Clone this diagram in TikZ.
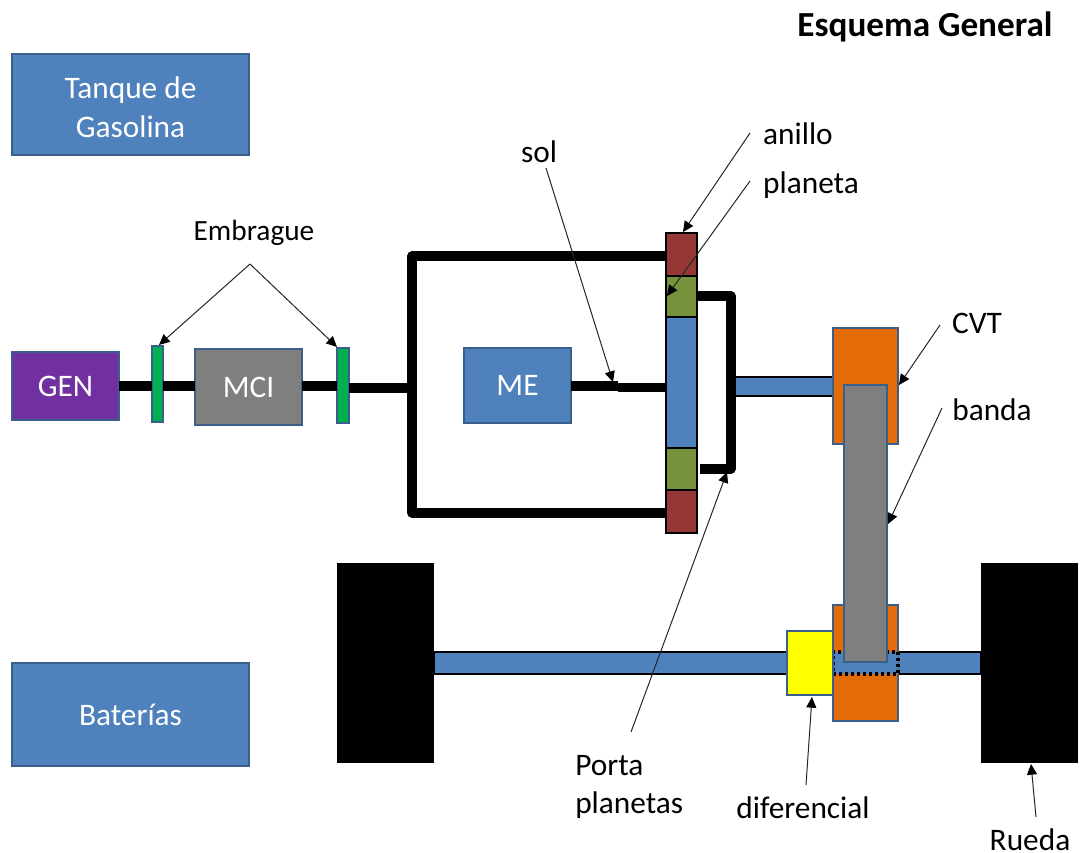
\documentclass[tikz,border=0pt]{standalone}
\usepackage{fontspec}
\setmainfont{Carlito}
\usetikzlibrary{arrows.meta}
\definecolor{cblue}{HTML}{4F81BD}
\definecolor{cborder}{HTML}{3A5F8B}
\definecolor{cpurple}{HTML}{7030A0}
\definecolor{cgreen}{HTML}{00B050}
\definecolor{cgray}{HTML}{7F7F7F}
\definecolor{cred}{HTML}{953735}
\definecolor{colive}{HTML}{76923C}
\definecolor{corange}{HTML}{E36C09}
\definecolor{cyellow}{HTML}{FFFF00}
\tikzset{
  blk/.style={inner sep=0pt,outer sep=0pt,line width=1.6pt,draw=cborder,text=white,font=\fontsize{23.5}{29}\selectfont,align=center},
  gearbox/.style={blk,draw=black,line width=1.8pt},
  lbl/.style={inner sep=0pt,text=black,font=\fontsize{23.5}{28.5}\selectfont},
  heavy/.style={line width=6.8pt,black},
  heavier/.style={line width=6.8pt,black,line join=round},
  pointer/.style={draw=black!85,line width=0.75pt,-{Triangle[length=8pt,width=7.5pt,black]}},
}
\newcommand{\bx}[7]{%
  \pgfmathsetmacro{\bxw}{(#4-#2)*0.75}%
  \pgfmathsetmacro{\bxh}{(#5-#3)*0.75}%
  \node[blk,#6,minimum width=\bxw pt,minimum height=\bxh pt] (#1) at ({(#2+#4)/2},{(#3+#5)/2}) {#7};%
}
\begin{document}
\begin{tikzpicture}[x=0.75pt,y=-0.75pt]
\useasboundingbox (0,0) rectangle (1082,853);
\coordinate (jfl) at (412,388);
\coordinate (jtl) at (412,256);
\coordinate (jbl) at (412,513);
\coordinate (sm1) at (618,386);
\coordinate (sm2) at (618,387.5);
\coordinate (ct) at (731,296);
\coordinate (cb) at (731,469);
\bx{gen}{12}{352}{119}{420}{fill=cpurple}{GEN}
\bx{cl1}{152}{346}{163}{422}{fill=cgreen}{}
\bx{mci}{195}{349}{302}{425}{fill=cgray}{MCI}
\bx{cl2}{337}{348}{349}{423}{fill=cgreen}{}
\bx{me}{464}{348}{571}{423}{fill=cblue}{ME}
\bx{tank}{12}{54}{249}{155}{fill=cblue}{}
\node[blk,draw=none] (tanktext) at (130.5,107) {Tanque de\\Gasolina};
\bx{bat}{12}{663}{249}{766}{fill=cblue}{Baterías}
\bx{axle}{434}{652}{981}{674}{fill=cblue,draw=black,line width=2pt}{}
\bx{shaft}{733}{377}{833}{396}{fill=cblue,draw=black,line width=2pt}{}
\bx{ringt}{666}{233}{697}{276}{gearbox,fill=cred}{}
\bx{plant}{666}{276}{697}{317}{gearbox,fill=colive}{}
\bx{sun}{666}{317}{697}{448}{gearbox,fill=cblue}{}
\bx{planb}{666}{448}{697}{490}{gearbox,fill=colive}{}
\bx{ringb}{666}{490}{697}{533}{gearbox,fill=cred}{}
\draw[heavy] (gen.east |- 0,386) -- (cl1.west |- 0,386);
\draw[heavy] (cl1.east |- 0,386) -- (mci.west |- 0,386);
\draw[heavy] (mci.east |- 0,386) -- (cl2.west |- 0,386);
\draw[heavy] (cl2.east |- 0,388) -- (jfl);
\draw[heavier] (ringt.west |- jtl) -- (jtl) -- (jbl) -- (ringb.west |- jbl);
\draw[heavy] (me.east |- sm1) -- (sm1);
\draw[heavy] (sm2) -- (sun.west |- sm2);
\draw[heavier] (plant.east |- ct) -- (ct) -- (cb) -- (700,469);
\bx{cvtt}{833}{328}{898}{444}{fill=corange}{}
\bx{cvtb}{833}{605}{898}{721}{fill=corange}{}
\bx{axlein}{833}{652}{898}{674}{fill=cblue,draw=black,dash pattern=on 2pt off 2.5pt,line width=2.4pt}{}
\bx{band}{844}{385}{887}{662}{fill=cgray}{}
\bx{dif}{787}{631}{833}{695}{fill=cyellow}{}
\bx{wl}{337}{563}{434}{763}{fill=black,draw=none}{}
\bx{wr}{981}{563}{1078}{763}{fill=black,draw=none}{}
\node[lbl,font=\fontsize{26.4}{30}\selectfont\bfseries] (title) at (925,27) {Esquema General};
\node[lbl,font=\fontsize{22}{26}\selectfont] (embr) at (254,233) {Embrague};
\node[lbl] (tsol) at (539,152) {sol};
\node[lbl] (tani) at (798,134) {anillo};
\node[lbl] (tpla) at (811,185) {planeta};
\node[lbl] (tcvt) at (977,323) {CVT};
\node[lbl] (tban) at (992,410) {banda};
\node[lbl,anchor=west,align=left] (tpor) at (575,786.5) {Porta\\planetas};
\node[lbl] (tdif) at (803,808) {diferencial};
\node[lbl] (true) at (1030,840) {Rueda};
\coordinate (e0) at (250,264);
\coordinate (sani) at (750,133);
\coordinate (spla) at (750,181);
\coordinate (ssol) at (546,168);
\coordinate (spor) at (631,732);
\coordinate (scvt) at (940,325);
\coordinate (sban) at (942,408);
\coordinate (sdif) at (806,785);
\coordinate (srue) at (1036,817);
\draw[pointer] (e0) -- (159,345);
\draw[pointer] (e0) -- (337,347);
\draw[pointer] (sani) -- (683,232);
\draw[pointer] (spla) -- (667,296);
\draw[pointer] (ssol) -- (613,382);
\draw[pointer] (spor) -- (727,472);
\draw[pointer] (scvt) -- (899,385);
\draw[pointer] (sban) -- (888,524);
\draw[pointer] (sdif) -- (812,697);
\draw[pointer] (srue) -- (1031,764);
\end{tikzpicture}
\end{document}
